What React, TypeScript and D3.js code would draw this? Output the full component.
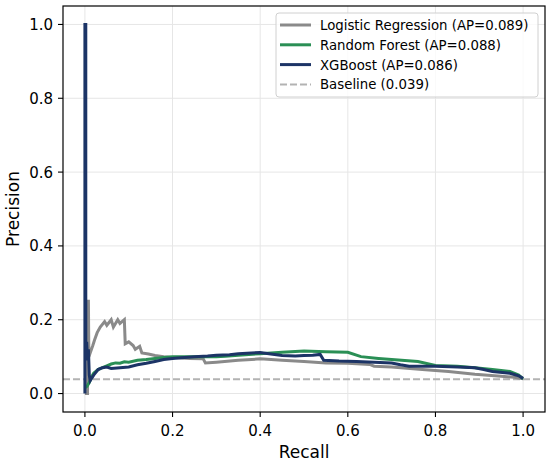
import { useEffect } from "react";
import * as d3 from "d3";

// [recall, precision]
const lrCurve: [number, number][] = [
  [0.0, 0.0], [0.006, 0.0], [0.006, 0.25], [0.008, 0.25], [0.009, 0.1], [0.012, 0.11],
  [0.018, 0.13], [0.022, 0.145], [0.028, 0.165], [0.035, 0.18], [0.045, 0.195],
  [0.05, 0.185], [0.06, 0.2], [0.065, 0.18], [0.075, 0.2], [0.08, 0.19], [0.09, 0.2],
  [0.092, 0.135], [0.1, 0.14], [0.11, 0.13], [0.115, 0.12], [0.125, 0.128], [0.13, 0.11],
  [0.145, 0.107], [0.16, 0.103], [0.18, 0.1], [0.2, 0.098], [0.22, 0.096], [0.24, 0.095],
  [0.27, 0.094], [0.275, 0.083], [0.3, 0.085], [0.35, 0.09], [0.4, 0.094], [0.45, 0.09],
  [0.5, 0.087], [0.55, 0.083], [0.6, 0.082], [0.65, 0.079], [0.66, 0.074], [0.7, 0.072],
  [0.77, 0.065], [0.83, 0.06], [0.89, 0.052], [0.95, 0.047], [0.98, 0.044], [1.0, 0.04],
];

const rfCurve: [number, number][] = [
  [0.0, 0.016], [0.005, 0.02], [0.01, 0.03], [0.015, 0.045], [0.02, 0.055], [0.03, 0.065],
  [0.04, 0.07], [0.05, 0.075], [0.06, 0.08], [0.07, 0.083], [0.08, 0.082], [0.09, 0.086],
  [0.1, 0.085], [0.12, 0.09], [0.14, 0.092], [0.16, 0.095], [0.18, 0.098], [0.2, 0.1],
  [0.22, 0.1], [0.25, 0.1], [0.3, 0.1], [0.32, 0.101], [0.35, 0.104], [0.4, 0.108],
  [0.45, 0.112], [0.5, 0.115], [0.55, 0.113], [0.6, 0.112], [0.63, 0.1], [0.67, 0.095],
  [0.7, 0.092], [0.76, 0.087], [0.8, 0.076], [0.85, 0.074], [0.89, 0.07], [0.93, 0.065],
  [0.97, 0.06], [0.99, 0.05], [1.0, 0.04],
];

const xgbCurve: [number, number][] = [
  [0.0, 0.0], [0.0, 1.0], [0.002, 1.0], [0.002, 0.1], [0.004, 0.14], [0.006, 0.09],
  [0.008, 0.12], [0.01, 0.05], [0.012, 0.035], [0.02, 0.05], [0.03, 0.065], [0.04, 0.07],
  [0.05, 0.072], [0.06, 0.068], [0.08, 0.07], [0.1, 0.072], [0.12, 0.078], [0.14, 0.082],
  [0.16, 0.087], [0.18, 0.092], [0.2, 0.095], [0.22, 0.097], [0.25, 0.1], [0.28, 0.102],
  [0.3, 0.104], [0.33, 0.105], [0.35, 0.108], [0.38, 0.11], [0.4, 0.111], [0.42, 0.108],
  [0.45, 0.103], [0.48, 0.102], [0.5, 0.103], [0.52, 0.104], [0.537, 0.106], [0.545, 0.09],
  [0.58, 0.088], [0.62, 0.087], [0.66, 0.085], [0.7, 0.083], [0.72, 0.078], [0.74, 0.074],
  [0.8, 0.074], [0.85, 0.072], [0.89, 0.07], [0.91, 0.065], [0.93, 0.06], [0.97, 0.055],
  [0.99, 0.048], [1.0, 0.041],
];

const baseline = 0.039;
const tickValues = [0, 0.2, 0.4, 0.6, 0.8, 1.0];

const seriesList = [
  { label: "Logistic Regression (AP=0.089)", color: "#8a8a8a", data: lrCurve },
  { label: "Random Forest (AP=0.088)", color: "#2a8f55", data: rfCurve },
  { label: "XGBoost (AP=0.086)", color: "#1c3466", data: xgbCurve },
];

const W = 550;
const H = 464;
const M = { left: 63, right: 545, top: 6, bottom: 412 };
const FONT = "'DejaVu Sans', sans-serif";

export default function App() {
  useEffect(() => {
    document.body.style.margin = "0";
  }, []);

  const x = d3.scaleLinear().domain([-0.05, 1.05]).range([M.left, M.right]);
  const y = d3.scaleLinear().domain([-0.05, 1.05]).range([M.bottom, M.top]);
  const line = d3
    .line<[number, number]>()
    .x((d) => x(d[0]))
    .y((d) => y(d[1]));

  const legendX = 276;
  const legendY = 13;
  const rowH = 19.8;

  return (
    <svg width={W} height={H} style={{ display: "block" }} fontFamily={FONT}>
      <rect width={W} height={H} fill="#fff" />
      <defs>
        <clipPath id="plot">
          <rect x={M.left} y={M.top} width={M.right - M.left} height={M.bottom - M.top} />
        </clipPath>
      </defs>

      {/* grid */}
      {tickValues.map((t) => (
        <g key={t}>
          <line x1={x(t)} x2={x(t)} y1={M.top} y2={M.bottom} stroke="#e6e6e6" strokeWidth={1} />
          <line x1={M.left} x2={M.right} y1={y(t)} y2={y(t)} stroke="#e6e6e6" strokeWidth={1} />
        </g>
      ))}

      <g clipPath="url(#plot)">
        <line
          x1={M.left}
          x2={M.right}
          y1={y(baseline)}
          y2={y(baseline)}
          stroke="#b3b3b3"
          strokeWidth={2}
          strokeDasharray="7 3"
        />
        {seriesList.map((s) => (
          <path
            key={s.label}
            d={line(s.data) || ""}
            fill="none"
            stroke={s.color}
            strokeWidth={3}
            strokeLinejoin="miter"
          />
        ))}
      </g>

      {/* frame */}
      <rect
        x={M.left}
        y={M.top}
        width={M.right - M.left}
        height={M.bottom - M.top}
        fill="none"
        stroke="#000"
        strokeWidth={1.2}
      />

      {/* ticks */}
      {tickValues.map((t) => (
        <g key={"t" + t}>
          <line x1={x(t)} x2={x(t)} y1={M.bottom} y2={M.bottom + 5} stroke="#000" strokeWidth={1.1} />
          <text x={x(t)} y={M.bottom + 24} fontSize={15} textAnchor="middle" fill="#000">
            {t.toFixed(1)}
          </text>
          <line x1={M.left - 5} x2={M.left} y1={y(t)} y2={y(t)} stroke="#000" strokeWidth={1.1} />
          <text x={M.left - 10} y={y(t) + 5.5} fontSize={15} textAnchor="end" fill="#000">
            {t.toFixed(1)}
          </text>
        </g>
      ))}

      <text x={(M.left + M.right) / 2} y={458} fontSize={17} textAnchor="middle" fill="#000">
        Recall
      </text>
      <text
        transform={`translate(19, ${(M.top + M.bottom) / 2}) rotate(-90)`}
        fontSize={17}
        textAnchor="middle"
        fill="#000"
      >
        Precision
      </text>

      {/* legend */}
      <rect
        x={legendX}
        y={legendY}
        width={262}
        height={84}
        rx={3}
        fill="#fff"
        fillOpacity={0.8}
        stroke="#d0d0d0"
        strokeWidth={1}
      />
      {seriesList.map((s, i) => (
        <g key={"lg" + i}>
          <line
            x1={legendX + 4}
            x2={legendX + 35}
            y1={legendY + 12 + i * rowH}
            y2={legendY + 12 + i * rowH}
            stroke={s.color}
            strokeWidth={3}
          />
          <text x={legendX + 44} y={legendY + 16.9 + i * rowH} fontSize={13.3} fill="#000">
            {s.label}
          </text>
        </g>
      ))}
      <line
        x1={legendX + 4}
        x2={legendX + 35}
        y1={legendY + 12 + 3 * rowH}
        y2={legendY + 12 + 3 * rowH}
        stroke="#b3b3b3"
        strokeWidth={2}
        strokeDasharray="7 3"
      />
      <text x={legendX + 44} y={legendY + 16.9 + 3 * rowH} fontSize={13.3} fill="#000">
        Baseline ({baseline.toFixed(3)})
      </text>
    </svg>
  );
}
